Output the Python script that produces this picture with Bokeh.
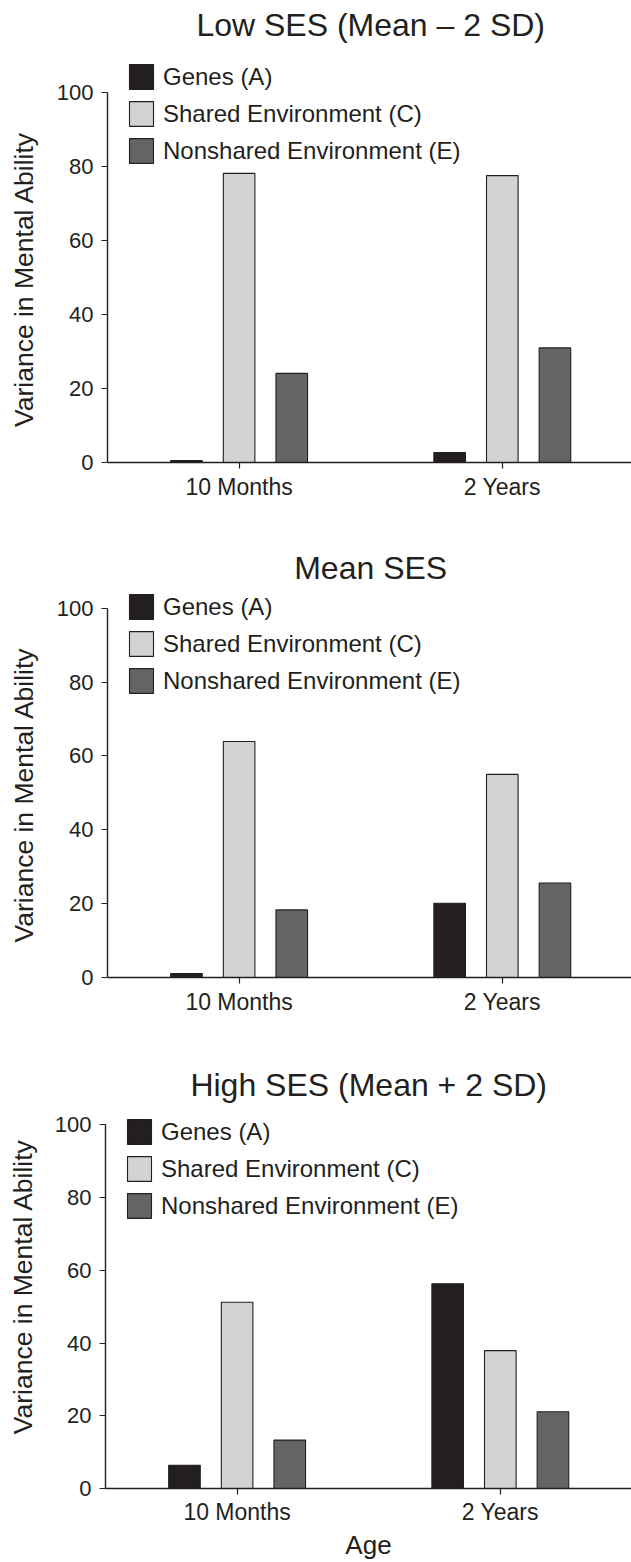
import math
from bokeh.plotting import figure
from bokeh.models import (ColumnDataSource, FixedTicker, Label, Legend, LegendItem, Range1d)
from bokeh.transform import dodge
from bokeh.layouts import column, row
from bokeh.embed import file_html
from bokeh.resources import INLINE

# ---------------- data ----------------
ages = ["10 Months", "2 Years"]
components = ["Genes (A)", "Shared Environment (C)", "Nonshared Environment (E)"]
panel_titles = ["Low SES (Mean \u2013 2 SD)", "Mean SES", "High SES (Mean + 2 SD)"]

low_A = [0.5, 2.7]
low_C = [78.2, 77.6]
low_E = [24.1, 31.0]

mean_A = [1.1, 20.1]
mean_C = [63.9, 55.0]
mean_E = [18.3, 25.6]

high_A = [6.4, 56.3]
high_C = [51.2, 37.9]
high_E = [13.3, 21.1]

y_ticks = [0, 20, 40, 60, 80, 100]
x_label = "Age"
y_label = "Variance in Mental Ability"

# ---------------- style ----------------
FONT = "Liberation Sans"
INK = "#231f20"
FILLS = ["#231f20", "#d1d3d4", "#636466"]
OFFSETS = [-0.2, 0.0, 0.2]
BAR_W = 0.12
PX_PER_CAT = 263.2
WIDTH = 631
LABEL_W = 40          # strip holding the rotated y-axis title

# layout per panel (page pixel positions)
layouts = [
    dict(height=530, top=0, bottom=68, hundred=92.3, left=107, title_mid=24.2, legend_top=61.0,
         tick_standoff=5, xlabel=None, ylab_x=23.3, ylab_start=426.5),
    dict(height=510, top=530, bottom=63, hundred=607.7, left=107, title_mid=567.5, legend_top=591.3,
         tick_standoff=5, xlabel=None, ylab_x=23.3, ylab_start=942.0),
    dict(height=522, top=1040, bottom=68, hundred=1125.4, left=105, title_mid=1085.0, legend_top=1122.4,
         tick_standoff=4, xlabel=x_label, ylab_x=22.0, ylab_start=1439.0),
]
series_sets = [
    (low_A, low_C, low_E),
    (mean_A, mean_C, mean_E),
    (high_A, high_C, high_E),
]


def make_ylabel(lay):
    h = lay["height"]
    fh = h - lay["bottom"]
    zero_page = lay["top"] + fh
    q = figure(width=LABEL_W, height=h, output_backend="svg", toolbar_location=None,
               x_range=Range1d(0, LABEL_W), y_range=Range1d(0, fh),
               x_axis_location=None, y_axis_location=None,
               min_border_left=0, min_border_right=0, min_border_top=0,
               min_border_bottom=lay["bottom"])
    q.xgrid.visible = False
    q.ygrid.visible = False
    q.outline_line_color = None
    q.add_layout(Label(x=lay["ylab_x"], y=zero_page - lay["ylab_start"], text=y_label,
                       angle=math.pi / 2, text_align="left", text_baseline="middle",
                       text_font=FONT, text_font_size="26.5px", text_color=INK))
    return q


def make_panel(title, series, lay):
    fh = lay["height"] - lay["bottom"]
    left = lay["left"] - LABEL_W
    fw = WIDTH - lay["left"]
    zero_page = lay["top"] + fh
    ppu = (zero_page - lay["hundred"]) / 100.0
    p = figure(width=WIDTH - LABEL_W, height=lay["height"], output_backend="svg", toolbar_location=None,
               x_range=Range1d(-0.5, -0.5 + fw / PX_PER_CAT),
               y_range=Range1d(0, fh / ppu),
               min_border_left=left, min_border_right=0,
               min_border_top=0, min_border_bottom=lay["bottom"])
    p.xgrid.visible = False
    p.ygrid.visible = False
    p.outline_line_color = None
    p.background_fill_color = "white"
    p.border_fill_color = "white"

    src = ColumnDataSource(dict(x=list(range(len(ages))), A=series[0], C=series[1], E=series[2]))
    renderers = []
    for key, off, col in zip(["A", "C", "E"], OFFSETS, FILLS):
        r = p.vbar(x=dodge("x", off), top=key, bottom=0, width=BAR_W, source=src,
                   fill_color=col, line_color=INK, line_width=1.1)
        renderers.append(r)

    for ax in (p.xaxis[0], p.yaxis[0]):
        ax.axis_line_color = INK
        ax.axis_line_width = 1.4
        ax.major_tick_line_color = INK
        ax.major_tick_line_width = 1.2
        ax.major_tick_in = 0
        ax.major_tick_out = 6
        ax.minor_tick_line_color = None
        ax.major_label_text_font = FONT
        ax.major_label_text_color = INK
        ax.axis_label_text_font = FONT
        ax.axis_label_text_font_style = "normal"
        ax.axis_label_text_color = INK

    xa = p.xaxis[0]
    xa.ticker = FixedTicker(ticks=list(range(len(ages))))
    xa.major_label_overrides = {i: a for i, a in enumerate(ages)}
    xa.major_label_text_font_size = "23px"
    xa.major_label_standoff = lay["tick_standoff"]
    if lay["xlabel"]:
        xa.axis_label = lay["xlabel"]
        xa.axis_label_text_font_size = "26px"
        xa.axis_label_standoff = 2

    ya = p.yaxis[0]
    ya.ticker = FixedTicker(ticks=y_ticks)
    ya.bounds = (0, 100)
    ya.major_label_text_font_size = "22px"
    ya.major_label_standoff = 8

    # panel title
    p.add_layout(Label(x=0.5, y=(zero_page - lay["title_mid"]) / ppu, text=title,
                       text_align="center", text_baseline="middle",
                       text_font=FONT, text_font_size="32px", text_color=INK))

    # legend
    items = [LegendItem(label=c, renderers=[r]) for c, r in zip(components, renderers)]
    leg_h = 3 * 31 + 2 * 6
    legend = Legend(items=items, location=(19, zero_page - (lay["legend_top"] + leg_h)),
                    glyph_width=30, glyph_height=31, label_height=28, spacing=6,
                    label_standoff=7, padding=0, margin=0,
                    border_line_color=None, background_fill_alpha=0,
                    label_text_font=FONT, label_text_font_size="24px", label_text_color=INK)
    p.add_layout(legend, "center")
    return p


rows = [row(make_ylabel(l), make_panel(t, s, l), spacing=0)
        for t, s, l in zip(panel_titles, series_sets, layouts)]
page = column(*rows, spacing=0)
open("out.html", "w").write(file_html(page, INLINE))
